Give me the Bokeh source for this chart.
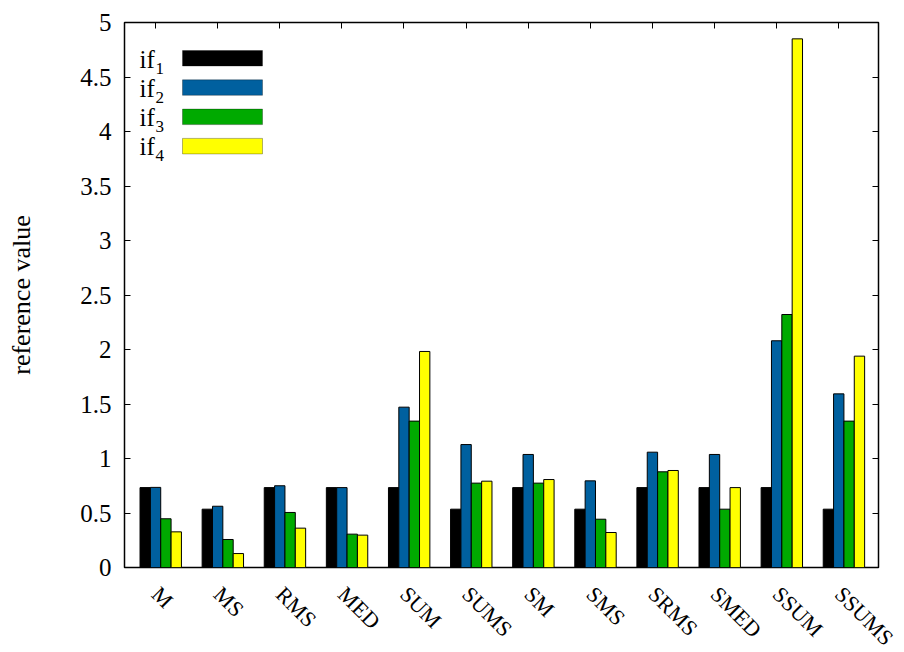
import math
from bokeh.plotting import figure
from bokeh.core.properties import value
from bokeh.models import (ColumnDataSource, FixedTicker, LinearAxis, Label,
                          BoxAnnotation, Range1d)
from bokeh.transform import dodge
from bokeh.embed import file_html
from bokeh.resources import INLINE

# ---------------- data ----------------
categories = ["M", "MS", "RMS", "MED", "SUM", "SUMS", "SM", "SMS",
              "SRMS", "SMED", "SSUM", "SSUMS"]
if1 = [0.733, 0.535, 0.733, 0.733, 0.733, 0.535, 0.733, 0.535, 0.733, 0.733, 0.733, 0.535]
if2 = [0.735, 0.562, 0.750, 0.733, 1.471, 1.128, 1.037, 0.795, 1.058, 1.037, 2.080, 1.593]
if3 = [0.447, 0.257, 0.505, 0.306, 1.343, 0.774, 0.774, 0.443, 0.878, 0.535, 2.321, 1.343]
if4 = [0.327, 0.128, 0.361, 0.297, 1.982, 0.792, 0.807, 0.321, 0.890, 0.733, 4.850, 1.939]
series_keys = ["if1", "if2", "if3", "if4"]
legend_base = "if"
legend_subs = ["1", "2", "3", "4"]
colors = ["#000000", "#00609f", "#00aa00", "#ffff00"]
y_ticks = [0, 0.5, 1, 1.5, 2, 2.5, 3, 3.5, 4, 4.5, 5]
y_tick_labels = ["0", "0.5", "1", "1.5", "2", "2.5", "3", "3.5", "4", "4.5", "5"]
y_label = "reference value"

FONT = "Liberation Serif"
FS = "25px"
CAT_FS = "22px"

# ---------------- layout constants ----------------
W, H = 904, 652
B_LEFT, B_RIGHT, B_TOP = 124, 26, 22
FRAME_BOTTOM = 567          # page y of the frame's bottom edge
H1 = FRAME_BOTTOM + 14      # height of the main figure
H2 = H - H1                 # strip below for the rotated category labels
LABEL_ANCHOR = 590          # page y where category labels start
X0, X1 = -0.5, 11.64

xt = list(range(len(categories)))
src = ColumnDataSource(dict(x=xt, if1=if1, if2=if2, if3=if3, if4=if4))

p = figure(width=W, height=H1, output_backend="svg", toolbar_location=None,
           x_range=Range1d(X0, X1), y_range=Range1d(0, 5),
           min_border_left=B_LEFT, min_border_right=B_RIGHT,
           min_border_top=B_TOP, min_border_bottom=H1 - FRAME_BOTTOM)

bw = 1.0 / 6.0
offsets = [-bw, 0.0, bw, 2 * bw]
for key, off, c in zip(series_keys, offsets, colors):
    p.vbar(x=dodge("x", off, range=p.x_range), top=key, bottom=0, width=bw,
           source=src, fill_color=c, line_color="black", line_width=1)

p.xgrid.visible = False
p.ygrid.visible = False
p.outline_line_color = "black"
p.outline_line_width = 1.5
p.background_fill_color = "white"
p.border_fill_color = "white"
p.xaxis.visible = False

yax = p.yaxis[0]
yax.ticker = FixedTicker(ticks=y_ticks)
yax.major_label_overrides = {t: l for t, l in zip(y_ticks, y_tick_labels)}
yax.axis_label = y_label
yax.axis_line_color = None
yax.major_tick_in = 6
yax.major_tick_out = 0
yax.major_tick_line_color = "black"
yax.minor_tick_line_color = None
yax.major_label_text_font = FONT
yax.major_label_text_font_size = FS
yax.major_label_text_color = "black"
yax.axis_label_text_font = FONT
yax.axis_label_text_font_size = "26px"
yax.axis_label_text_font_style = "normal"
yax.axis_label_text_color = "black"
yax.major_label_standoff = 13
yax.axis_label_standoff = 41

top_ax = LinearAxis(ticker=FixedTicker(ticks=xt), major_label_text_color=None,
                    major_label_text_font_size="1px", major_label_standoff=0,
                    major_tick_in=6, major_tick_out=0, major_tick_line_color="black",
                    axis_line_color=None, minor_tick_line_color=None)
right_ax = LinearAxis(ticker=FixedTicker(ticks=y_ticks), major_label_text_color=None,
                      major_label_text_font_size="1px", major_label_standoff=0,
                      major_tick_in=6, major_tick_out=0, major_tick_line_color="black",
                      axis_line_color=None, minor_tick_line_color=None)
p.add_layout(top_ax, "above")
p.add_layout(right_ax, "right")

# legend (gnuplot style: label left, swatch right), screen units in frame
row_h = 29.3
for j, (sub, c) in enumerate(zip(legend_subs, colors)):
    top = 517 - row_h * j
    p.add_layout(BoxAnnotation(left=58, right=138, top=top, bottom=top - 15.5,
                               left_units="screen", right_units="screen",
                               top_units="screen", bottom_units="screen",
                               fill_color=c, fill_alpha=1.0,
                               line_color="black", line_width=1))
    base_y = top - 7.5
    p.add_layout(Label(x=15, y=base_y - 1, x_units="screen", y_units="screen",
                       text=legend_base, text_font=FONT, text_font_size=FS,
                       text_baseline="alphabetic", text_align="left",
                       text_color="black"))
    p.add_layout(Label(x=31, y=base_y - 10, x_units="screen", y_units="screen",
                       text=sub, text_font=FONT, text_font_size="17px",
                       text_baseline="alphabetic", text_align="left",
                       text_color="black"))

# ---------------- strip with rotated category labels ----------------
px_per_unit = (W - B_LEFT - B_RIGHT) / (X1 - X0)
x2_range = Range1d(X0 - B_LEFT / px_per_unit, X1 + B_RIGHT / px_per_unit)
p2 = figure(width=W, height=H2, output_backend="svg", toolbar_location=None,
            x_range=x2_range, y_range=Range1d(-H2, 0),
            min_border_left=0, min_border_right=0, min_border_top=0,
            min_border_bottom=0)
p2.axis.visible = False
p2.grid.visible = False
p2.outline_line_color = None
p2.background_fill_color = "white"
p2.border_fill_color = "white"

label_src = ColumnDataSource(dict(x=xt, text=categories))
p2.text(x="x", y=-(LABEL_ANCHOR - H1), text="text", source=label_src,
        angle=-math.pi / 4, text_align="left", text_baseline="middle",
        text_font=value(FONT), text_font_size=value(CAT_FS), text_color="black")

open("out.html", "w").write(file_html([p, p2], INLINE))
